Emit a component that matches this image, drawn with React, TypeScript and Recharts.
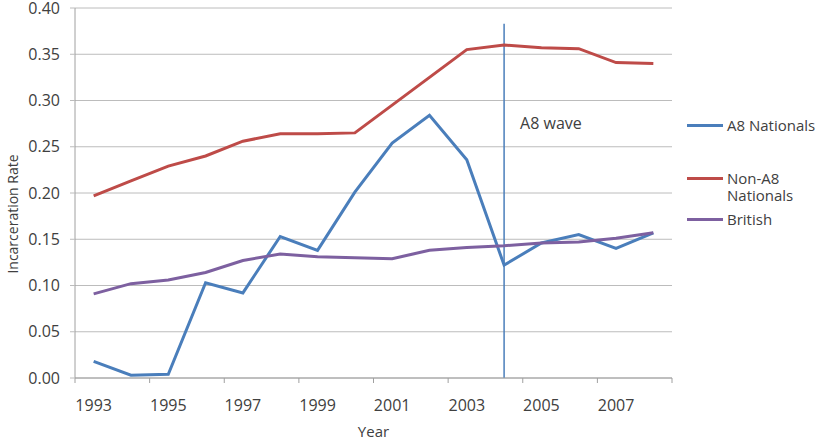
import React from 'react';
import {
  LineChart,
  Line,
  XAxis,
  YAxis,
  CartesianGrid,
  Legend,
  ReferenceLine,
  Label,
} from 'recharts';

const years = [1993, 1994, 1995, 1996, 1997, 1998, 1999, 2000, 2001, 2002, 2003, 2004, 2005, 2006, 2007, 2008];
const a8Nationals = [0.018, 0.003, 0.004, 0.103, 0.092, 0.153, 0.138, 0.201, 0.254, 0.284, 0.236, 0.122, 0.146, 0.155, 0.14, 0.157];
const nonA8Nationals = [0.197, 0.213, 0.229, 0.24, 0.256, 0.264, 0.264, 0.265, 0.295, 0.325, 0.355, 0.36, 0.357, 0.356, 0.341, 0.34];
const british = [0.091, 0.102, 0.106, 0.114, 0.127, 0.134, 0.131, 0.13, 0.129, 0.138, 0.141, 0.143, 0.146, 0.147, 0.151, 0.157];

const yTicks = [0, 0.05, 0.1, 0.15, 0.2, 0.25, 0.3, 0.35, 0.4];
const xBoundaries = [1992.5, 1994.5, 1996.5, 1998.5, 2000.5, 2002.5, 2004.5, 2006.5, 2008.5];
const xTickLabels = ['1993', '1995', '1997', '1999', '2001', '2003', '2005', '2007'];
const waveYear = 2004;
const waveTop = 0.383;

const seriesNames = ['A8 Nationals', 'Non-A8 Nationals', 'British'];
const colors = ['#4A7EBB', '#BE4B48', '#7D60A0'];

const data = years.map((y, i) => ({
  year: y,
  a8: a8Nationals[i],
  nonA8: nonA8Nationals[i],
  british: british[i],
}));

const W = 820;
const H = 445;
const LEGEND_W = 133;
const RIGHT_SPACE = 148;
const MARGIN = { top: 8, right: RIGHT_SPACE - LEGEND_W, bottom: 0, left: 0 };
const Y_AXIS_W = 75;
const X_AXIS_H = 67;
const FONT = '"Open Sans", sans-serif';
const TEXT = '#404040';
const GRID = '#bcbcbc';
const AXIS = '#a0a0a0';

const plotW = W - MARGIN.left - RIGHT_SPACE - Y_AXIS_W;
const halfCat = plotW / (xBoundaries[xBoundaries.length - 1] - xBoundaries[0]) / 2;

const YearTick = (props: any) => {
  const { x, y, index } = props;
  const label = xTickLabels[index];
  if (!label) return null;
  return (
    <text x={x + halfCat} y={y} dy={26} textAnchor="middle" fill={TEXT} fontSize={16} fontFamily={FONT}>
      {label}
    </text>
  );
};

const YLabel = (props: any) => {
  const vb = props.viewBox || { x: 0, y: 0, width: 0, height: 0 };
  const x = vb.x + 18;
  const y = vb.y + vb.height / 2 + 21;
  return (
    <text x={x} y={y} transform={`rotate(-90 ${x} ${y})`} textAnchor="middle" fill={TEXT} fontSize={14} fontFamily={FONT}>
      Incarceration Rate
    </text>
  );
};

const WaveLabel = (props: any) => {
  const vb = props.viewBox || { x: 0, y: 0 };
  return (
    <text x={vb.x + 16} y={vb.y + 105} fill={TEXT} fontSize={16} fontFamily={FONT}>
      A8 wave
    </text>
  );
};

const LegendContent = () => {
  const rows = [
    { lines: ['A8 Nationals'], mt: 0 },
    { lines: ['Non-A8', 'Nationals'], mt: 35 },
    { lines: ['British'], mt: 5 },
  ];
  return (
    <div style={{ fontFamily: FONT, fontSize: 15, color: TEXT }}>
      {rows.map((r, i) => (
        <div key={i} style={{ display: 'flex', alignItems: 'flex-start', marginTop: r.mt }}>
          <div style={{ width: 36, height: 3, background: colors[i], marginTop: r.lines.length > 1 ? 7 : 9, marginRight: 4, flex: 'none' }} />
          <div style={{ lineHeight: r.lines.length > 1 ? '17px' : '20px' }}>
            {r.lines.map((l, j) => (
              <div key={j}>{l}</div>
            ))}
          </div>
        </div>
      ))}
    </div>
  );
};

export default function App() {
  return (
    <div style={{ position: 'absolute', left: 0, top: 0, width: W, height: H, background: '#fff' }}>
      <LineChart width={W} height={H} data={data} margin={MARGIN}>
        <CartesianGrid vertical={false} stroke={GRID} />
        <XAxis
          dataKey="year"
          type="number"
          domain={[xBoundaries[0], xBoundaries[xBoundaries.length - 1]]}
          ticks={xBoundaries}
          interval={0}
          height={X_AXIS_H}
          tickSize={5}
          axisLine={{ stroke: AXIS }}
          tickLine={{ stroke: AXIS }}
          tick={(p: any) => <YearTick {...p} />}
          label={{ value: 'Year', position: 'insideBottom', offset: 8, fill: TEXT, fontSize: 15, fontFamily: FONT }}
        />
        <YAxis
          width={Y_AXIS_W}
          domain={[0, 0.4]}
          ticks={yTicks}
          interval={0}
          tickSize={5}
          tickMargin={10}
          tickFormatter={(v: number) => v.toFixed(2)}
          axisLine={{ stroke: AXIS }}
          tickLine={{ stroke: GRID }}
          tick={{ fill: TEXT, fontSize: 16, fontFamily: FONT }}
          label={<Label content={<YLabel />} />}
        />
        <ReferenceLine
          segment={[
            { x: waveYear, y: 0 },
            { x: waveYear, y: waveTop },
          ]}
          stroke="#4A7EBB"
          strokeWidth={1.5}
          label={<Label content={<WaveLabel />} />}
        />
        <Line dataKey="a8" name={seriesNames[0]} stroke={colors[0]} strokeWidth={3} dot={false} activeDot={false} isAnimationActive={false} />
        <Line dataKey="nonA8" name={seriesNames[1]} stroke={colors[1]} strokeWidth={3} dot={false} activeDot={false} isAnimationActive={false} />
        <Line dataKey="british" name={seriesNames[2]} stroke={colors[2]} strokeWidth={3} dot={false} activeDot={false} isAnimationActive={false} />
        <Legend
          layout="horizontal"
          verticalAlign="middle"
          align="right"
          content={<LegendContent />}
          wrapperStyle={{ left: 687, top: 115, width: LEGEND_W, right: 'auto', bottom: 'auto' }}
        />
      </LineChart>
    </div>
  );
}
